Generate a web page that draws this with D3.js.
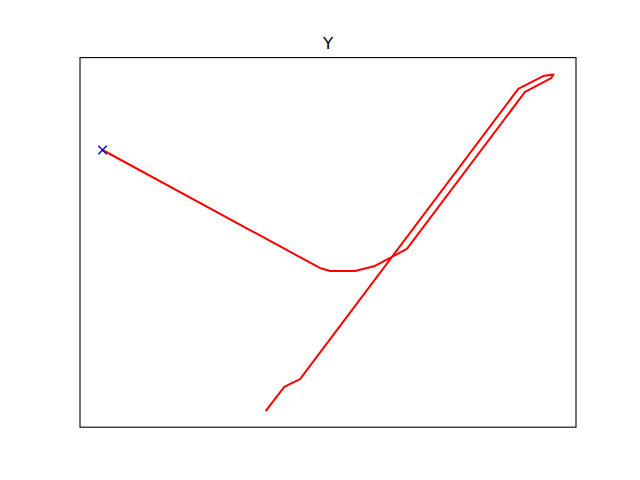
<!DOCTYPE html>
<html>
<head>
<meta charset="utf-8">
<script src="https://cdn.jsdelivr.net/npm/d3@7"></script>
<style>
  body { margin: 0; background: #fff; }
  svg { display: block; }
</style>
</head>
<body>
<div id="chart"></div>
<script>

// Path points (data units)
var xValues = [0.0, 4.82, 5.05, 5.60, 6.04, 6.42, 6.75, 9.37, 9.95, 10.0, 9.77, 9.22, 4.38, 4.03, 3.63];
var yValues = [7.75, 4.24, 4.15, 4.15, 4.30, 4.57, 4.81, 9.48, 9.89, 10.0, 9.95, 9.57, 0.93, 0.70, 0.0];

// Start marker
var markerX = [0.0];
var markerY = [7.75];

var titleText = "Y";

var width = 640, height = 480;
var margin = {top: 57.6, right: 64, bottom: 52.8, left: 80};
var plotW = width - margin.left - margin.right;
var plotH = height - margin.top - margin.bottom;

var svg = d3.select('#chart').append('svg')
    .attr('width', width)
    .attr('height', height);

// Matplotlib style 5% margins on both axes
var xExt = d3.extent(xValues), yExt = d3.extent(yValues);
var xPad = (xExt[1] - xExt[0]) * 0.05, yPad = (yExt[1] - yExt[0]) * 0.05;

var xScale = d3.scaleLinear().domain([xExt[0] - xPad, xExt[1] + xPad]).range([0, plotW]);
var yScale = d3.scaleLinear().domain([yExt[0] - yPad, yExt[1] + yPad]).range([plotH, 0]);

var g = svg.append('g')
    .attr('transform', 'translate(' + margin.left + ',' + margin.top + ')');

var data = xValues.map(function(d, i) { return [d, yValues[i]]; });

var line = d3.line()
    .x(function(d) { return xScale(d[0]); })
    .y(function(d) { return yScale(d[1]); });

g.append('path')
    .datum(data)
    .attr('d', line)
    .attr('fill', 'none')
    .attr('stroke', 'red')
    .attr('stroke-width', 2)
    .attr('stroke-linejoin', 'round')
    .attr('stroke-linecap', 'square');

// Blue x marker
var ms = 4.2;
markerX.forEach(function(mx, i) {
    var cx = xScale(mx), cy = yScale(markerY[i]);
    g.append('path')
        .attr('d', 'M' + (cx - ms) + ',' + (cy - ms) + 'L' + (cx + ms) + ',' + (cy + ms) +
                   'M' + (cx - ms) + ',' + (cy + ms) + 'L' + (cx + ms) + ',' + (cy - ms))
        .attr('stroke', 'blue')
        .attr('stroke-width', 1.4)
        .attr('fill', 'none');
});

// Axes frame
g.append('rect')
    .attr('x', 0)
    .attr('y', 0)
    .attr('width', plotW)
    .attr('height', plotH)
    .attr('fill', 'none')
    .attr('stroke', 'black')
    .attr('stroke-width', 1.1);

// Title
svg.append('text')
    .attr('x', margin.left + plotW / 2)
    .attr('y', margin.top - 8.3)
    .attr('text-anchor', 'middle')
    .attr('font-family', 'DejaVu Sans')
    .attr('font-size', '16.7px')
    .text(titleText);

</script>
</body>
</html>
